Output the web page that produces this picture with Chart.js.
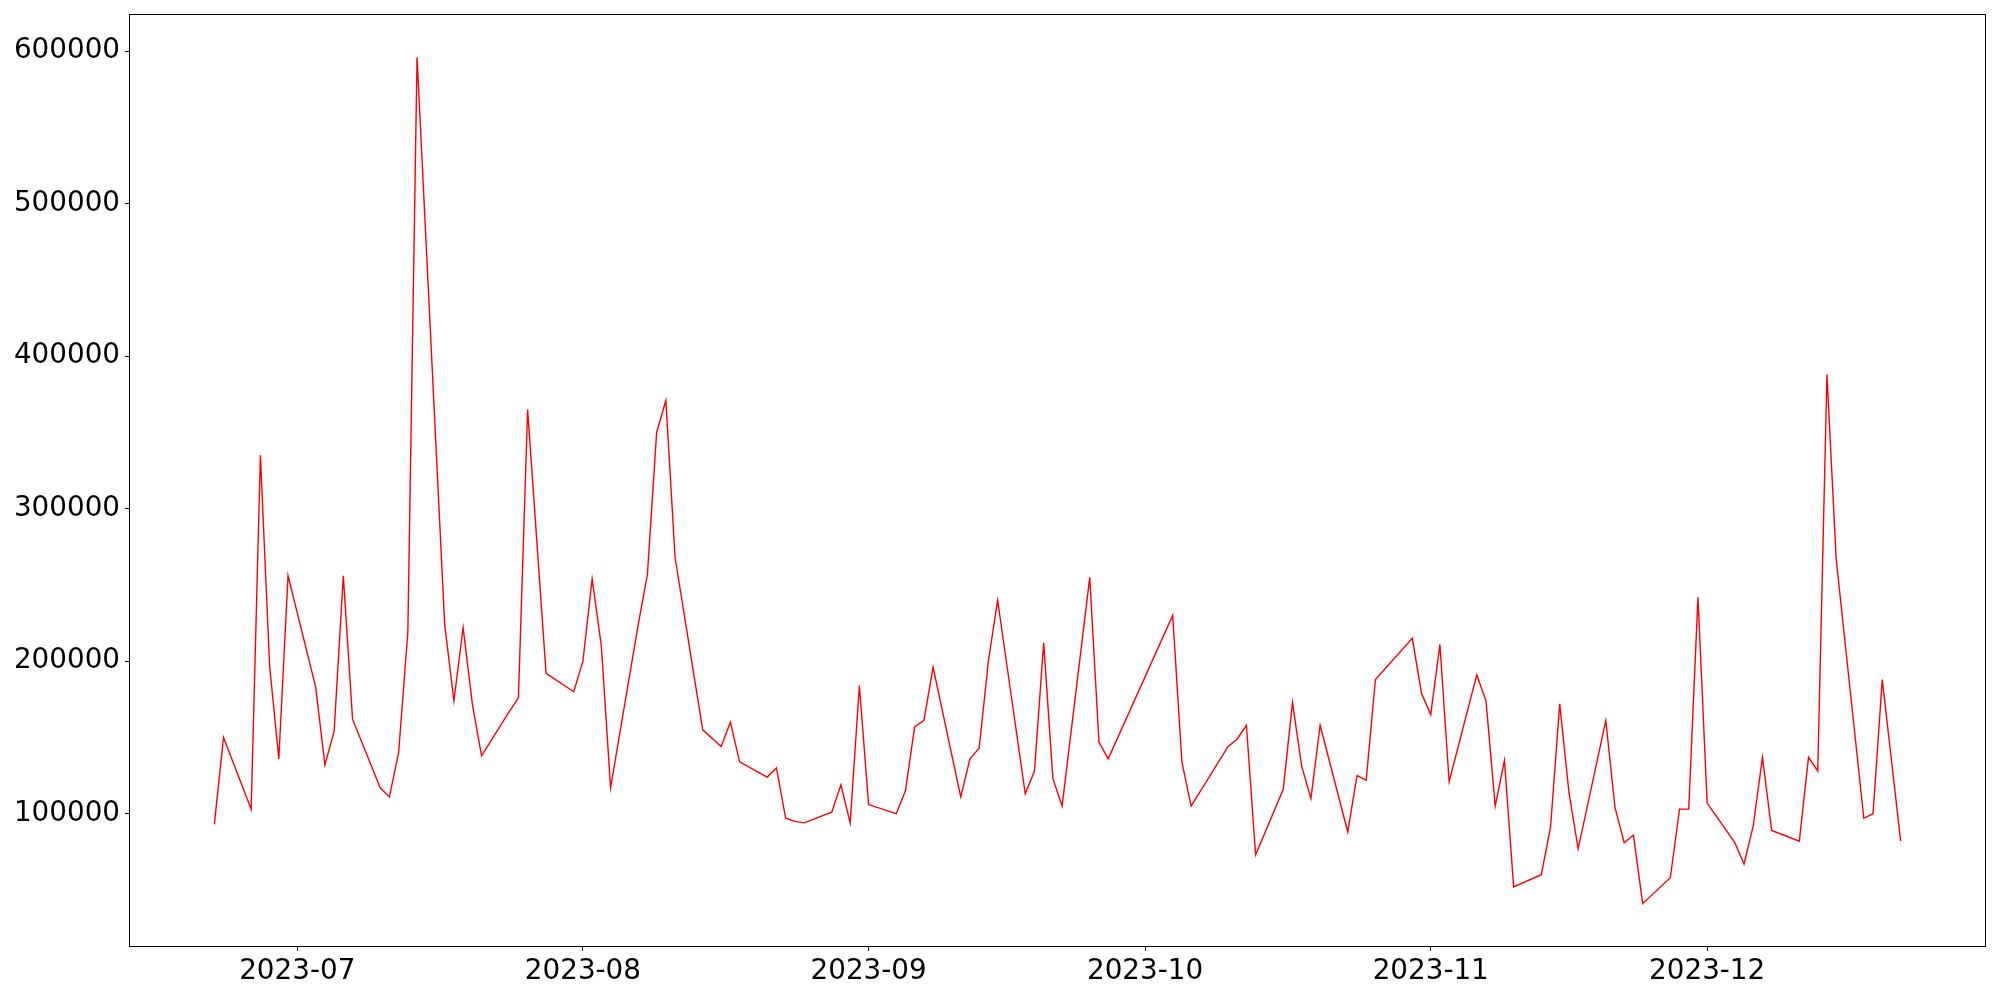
<!DOCTYPE html>
<html>
<head>
<meta charset="utf-8">
<script src="https://cdn.jsdelivr.net/npm/chart.js@4.4.1/dist/chart.umd.min.js"></script>
<style>
  html, body { margin: 0; padding: 0; background: #fff; }
  #wrap { width: 2000px; height: 1000px; }
</style>
</head>
<body>
<div id="wrap"><canvas id="chart" width="2000" height="1000"></canvas></div>
<script>
const dates = [
  "2023-06-22", "2023-06-23", "2023-06-26", "2023-06-27", "2023-06-28", "2023-06-29", "2023-06-30",
  "2023-07-03", "2023-07-04", "2023-07-05", "2023-07-06", "2023-07-07",
  "2023-07-10", "2023-07-11", "2023-07-12", "2023-07-13", "2023-07-14",
  "2023-07-17", "2023-07-18", "2023-07-19", "2023-07-20", "2023-07-21",
  "2023-07-24", "2023-07-25", "2023-07-26", "2023-07-28",
  "2023-07-31", "2023-08-01", "2023-08-02", "2023-08-03", "2023-08-04",
  "2023-08-07", "2023-08-08", "2023-08-09", "2023-08-10", "2023-08-11",
  "2023-08-14", "2023-08-16", "2023-08-17", "2023-08-18",
  "2023-08-21", "2023-08-22", "2023-08-23", "2023-08-24", "2023-08-25",
  "2023-08-28", "2023-08-29", "2023-08-30", "2023-08-31", "2023-09-01",
  "2023-09-04", "2023-09-05", "2023-09-06", "2023-09-07", "2023-09-08",
  "2023-09-11", "2023-09-12", "2023-09-13", "2023-09-14", "2023-09-15",
  "2023-09-18", "2023-09-19", "2023-09-20", "2023-09-21", "2023-09-22",
  "2023-09-25", "2023-09-26", "2023-09-27",
  "2023-10-04", "2023-10-05", "2023-10-06",
  "2023-10-10", "2023-10-11", "2023-10-12", "2023-10-13",
  "2023-10-16", "2023-10-17", "2023-10-18", "2023-10-19", "2023-10-20",
  "2023-10-23", "2023-10-24", "2023-10-25", "2023-10-26",
  "2023-10-30", "2023-10-31", "2023-11-01", "2023-11-02", "2023-11-03",
  "2023-11-06", "2023-11-07", "2023-11-08", "2023-11-09", "2023-11-10",
  "2023-11-13", "2023-11-14", "2023-11-15", "2023-11-16", "2023-11-17",
  "2023-11-20", "2023-11-21", "2023-11-22", "2023-11-23", "2023-11-24",
  "2023-11-27", "2023-11-28", "2023-11-29", "2023-11-30", "2023-12-01",
  "2023-12-04", "2023-12-05", "2023-12-06", "2023-12-07", "2023-12-08",
  "2023-12-11", "2023-12-12", "2023-12-13", "2023-12-14", "2023-12-15",
  "2023-12-18", "2023-12-19", "2023-12-20", "2023-12-22"
];

const values = [
  93000, 150000, 103000, 335000, 197000, 136000, 256000,
  183000, 132000, 154000, 256000, 162000,
  117000, 111000, 140000, 219000, 596000,
  224000, 174000, 222000, 172000, 138000,
  167000, 176000, 365000, 192000,
  180000, 200000, 254000, 210000, 117000,
  224000, 257000, 350000, 371000, 268000,
  155000, 144000, 160000, 134000,
  124000, 130000, 97000, 95000, 94000,
  101000, 119000, 94000, 184000, 106000,
  100000, 115000, 157000, 161000, 196000,
  111000, 136000, 143000, 200000, 240000,
  113000, 128000, 212000, 123000, 105000,
  255000, 147000, 136000,
  230000, 134000, 105000,
  144000, 149000, 158000, 73000,
  116000, 173000, 131000, 110000, 158000,
  88000, 125000, 122000, 188000,
  215000, 179000, 165000, 211000, 121000,
  191000, 174000, 105000, 135000, 52000,
  60000, 91000, 172000, 114000, 77000,
  161000, 104000, 81000, 86000, 41000,
  58000, 103000, 103000, 242000, 107000,
  81000, 67000, 92000, 137000, 89000,
  82000, 137000, 128000, 388000, 267000,
  97000, 100000, 188000, 82000
];

const monthTicks = ["2023-07", "2023-08", "2023-09", "2023-10", "2023-11", "2023-12"];
const yTicks = [100000, 200000, 300000, 400000, 500000, 600000];

const DAY = 86400000;
const toDay = (s) => Date.parse(s + "T00:00:00Z") / DAY;

const points = dates.map((d, i) => ({ x: toDay(d), y: values[i] }));
const monthDays = monthTicks.map((m) => toDay(m + "-01"));

// matplotlib-style 5% margins
const xs = points.map((p) => p.x);
const xSpan = Math.max(...xs) - Math.min(...xs);
const xMin = Math.min(...xs) - 0.05 * xSpan;
const xMax = Math.max(...xs) + 0.05 * xSpan;
const ySpan = Math.max(...values) - Math.min(...values);
const yMin = Math.min(...values) - 0.05 * ySpan;
const yMax = Math.max(...values) + 0.05 * ySpan;

const font = { family: "'DejaVu Sans'", size: 27.8 };

// axes box on all four sides, snapped to whole pixels
const frame = {
  id: "frame",
  afterDatasetsDraw(chart) {
    const { ctx, chartArea: a } = chart;
    const l = Math.round(a.left) - 0.5;
    const t = Math.round(a.top) - 0.5;
    const r = Math.round(a.right) + 0.5;
    const b = Math.round(a.bottom) + 0.5;
    ctx.save();
    ctx.strokeStyle = "#000";
    ctx.lineWidth = 1;
    ctx.strokeRect(l, t, r - l, b - t);
    ctx.restore();
  },
};

new Chart(document.getElementById("chart"), {
  type: "line",
  data: {
    datasets: [
      {
        data: points,
        borderColor: "rgb(255, 0, 0)",
        borderWidth: 1.4,
        pointRadius: 0,
        tension: 0,
        fill: false,
      },
    ],
  },
  options: {
    responsive: false,
    animation: false,
    events: [],
    layout: { padding: { top: 15, right: 15, left: 0, bottom: 0 } },
    plugins: {
      legend: { display: false },
      tooltip: { enabled: false },
    },
    scales: {
      x: {
        type: "linear",
        min: xMin,
        max: xMax,
        afterBuildTicks: (scale) => {
          scale.ticks = monthDays.map((v) => ({ value: v }));
        },
        afterFit: (scale) => {
          scale.height = 54;
          scale.paddingLeft = 0;
          scale.paddingRight = 0;
        },
        ticks: {
          color: "#000",
          font: font,
          padding: 4,
          maxRotation: 0,
          autoSkip: false,
          callback: (v) => monthTicks[monthDays.indexOf(v)],
        },
        grid: {
          drawOnChartArea: false,
          drawTicks: true,
          tickLength: 5,
          color: "#000",
          lineWidth: 1,
        },
        border: { display: false },
      },
      y: {
        type: "linear",
        min: yMin,
        max: yMax,
        afterBuildTicks: (scale) => {
          scale.ticks = yTicks.map((v) => ({ value: v }));
        },
        afterFit: (scale) => {
          scale.width = 130;
          scale.paddingTop = 0;
          scale.paddingBottom = 0;
        },
        ticks: {
          color: "#000",
          font: font,
          padding: 5,
          callback: (v) => String(v),
        },
        grid: {
          drawOnChartArea: false,
          drawTicks: true,
          tickLength: 5,
          color: "#000",
          lineWidth: 1,
        },
        border: { display: false },
      },
    },
  },
  plugins: [frame],
});
</script>
</body>
</html>
